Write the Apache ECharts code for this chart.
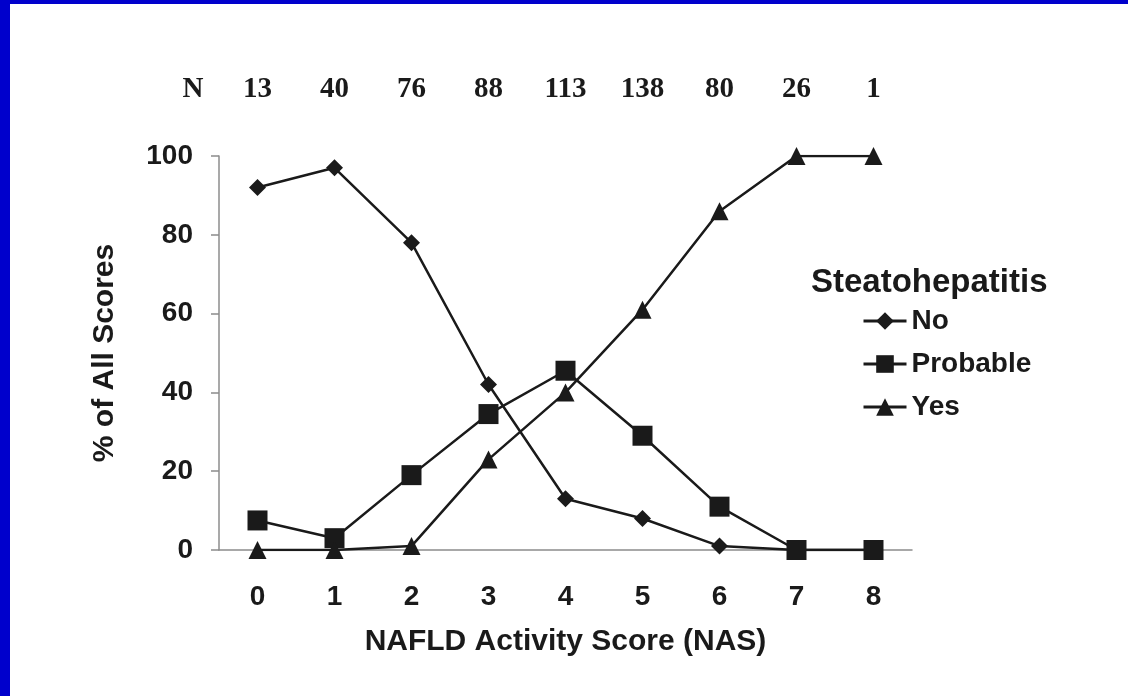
<!DOCTYPE html>
<html>
<head>
<meta charset="utf-8">
<title>NAFLD Activity Score</title>
<script src="https://cdn.jsdelivr.net/npm/echarts@6/dist/echarts.min.js"></script>
<style>
  html, body { margin: 0; padding: 0; background: #fff; }
  #chart { width: 1128px; height: 696px; }
</style>
</head>
<body>
<div id="chart"></div>
<script>
// NAS score categories and number of biopsies per score
var scores = ['0', '1', '2', '3', '4', '5', '6', '7', '8'];
var nCounts = ['13', '40', '76', '88', '113', '138', '80', '26', '1'];

// % of all scores for each steatohepatitis diagnosis
var noSH = [92, 97, 78, 42, 13, 8, 1, 0, 0];
var probableSH = [7.5, 3, 19, 34.5, 45.5, 29, 11, 0, 0];
var yesSH = [0, 0, 1, 23, 40, 61, 86, 100, 100];

var yTicks = [0, 20, 40, 60, 80, 100];

var sans = "'Liberation Sans', Arial, sans-serif";
var ink = '#1a1a1a';

var chart = echarts.init(document.getElementById('chart'));

function lineSeries(name, data, symbol, size) {
  return {
    name: name,
    type: 'line',
    data: data,
    symbol: symbol,
    symbolSize: size,
    showAllSymbol: true,
    lineStyle: { color: ink, width: 2.5 },
    itemStyle: { color: ink },
    emphasis: { disabled: true }
  };
}

var option = {
  backgroundColor: '#fff',
  animation: false,
  grid: { left: 219, right: 216, top: 156, bottom: 146 },
  title: {
    text: 'Steatohepatitis',
    left: 811,
    top: 266,
    padding: 0,
    textStyle: { fontFamily: sans, fontSize: 33, fontWeight: 'bold', color: ink }
  },
  legend: {
    orient: 'vertical',
    left: 862,
    top: 307,
    padding: 0,
    itemWidth: 43,
    itemHeight: 22,
    itemGap: 15,
    selectedMode: false,
    lineStyle: { width: 3 },
    textStyle: { fontFamily: sans, fontSize: 28, fontWeight: 'bold', color: ink },
    data: ['No', 'Probable', 'Yes']
  },
  xAxis: [
    {
      type: 'category',
      data: scores,
      boundaryGap: true,
      name: 'NAFLD Activity Score (NAS)',
      nameLocation: 'middle',
      nameGap: 77,
      nameTextStyle: { fontFamily: sans, fontSize: 30, fontWeight: 'bold', color: ink },
      axisLine: { lineStyle: { color: '#8c8c8c', width: 1.5 } },
      axisTick: { show: false },
      axisLabel: { margin: 33, fontFamily: sans, fontSize: 28, fontWeight: 'bold', color: ink }
    },
    {
      type: 'category',
      data: nCounts,
      position: 'top',
      boundaryGap: true,
      axisLine: { show: false },
      axisTick: { show: false },
      axisLabel: {
        margin: 52,
        fontFamily: "'Liberation Serif', 'Times New Roman', serif",
        fontSize: 29,
        fontWeight: 'bold',
        color: ink
      }
    }
  ],
  yAxis: {
    type: 'value',
    min: yTicks[0],
    max: yTicks[yTicks.length - 1],
    interval: 20,
    name: '% of All Scores',
    nameLocation: 'middle',
    nameGap: 99,
    nameTextStyle: { fontFamily: sans, fontSize: 30, fontWeight: 'bold', color: ink },
    splitLine: { show: false },
    axisLine: { show: true, lineStyle: { color: '#8c8c8c', width: 1.5 } },
    axisTick: { show: true, length: 8, lineStyle: { color: '#8c8c8c', width: 1.5 } },
    axisLabel: { margin: 26, fontFamily: sans, fontSize: 28, fontWeight: 'bold', color: ink }
  },
  graphic: [
    { type: 'rect', left: 0, top: 0, shape: { width: 1128, height: 4 }, style: { fill: '#0000cc' } },
    { type: 'rect', left: 0, top: 0, shape: { width: 10, height: 696 }, style: { fill: '#0000cc' } },
    {
      type: 'text',
      x: 193,
      y: 90,
      style: {
        text: 'N',
        font: "bold 29px 'Liberation Serif', 'Times New Roman', serif",
        fill: ink,
        align: 'center',
        verticalAlign: 'middle'
      }
    }
  ],
  series: [
    lineSeries('No', noSH, 'diamond', 17),
    lineSeries('Probable', probableSH, 'rect', 20),
    lineSeries('Yes', yesSH, 'triangle', 18)
  ]
};

chart.setOption(option);
</script>
</body>
</html>
